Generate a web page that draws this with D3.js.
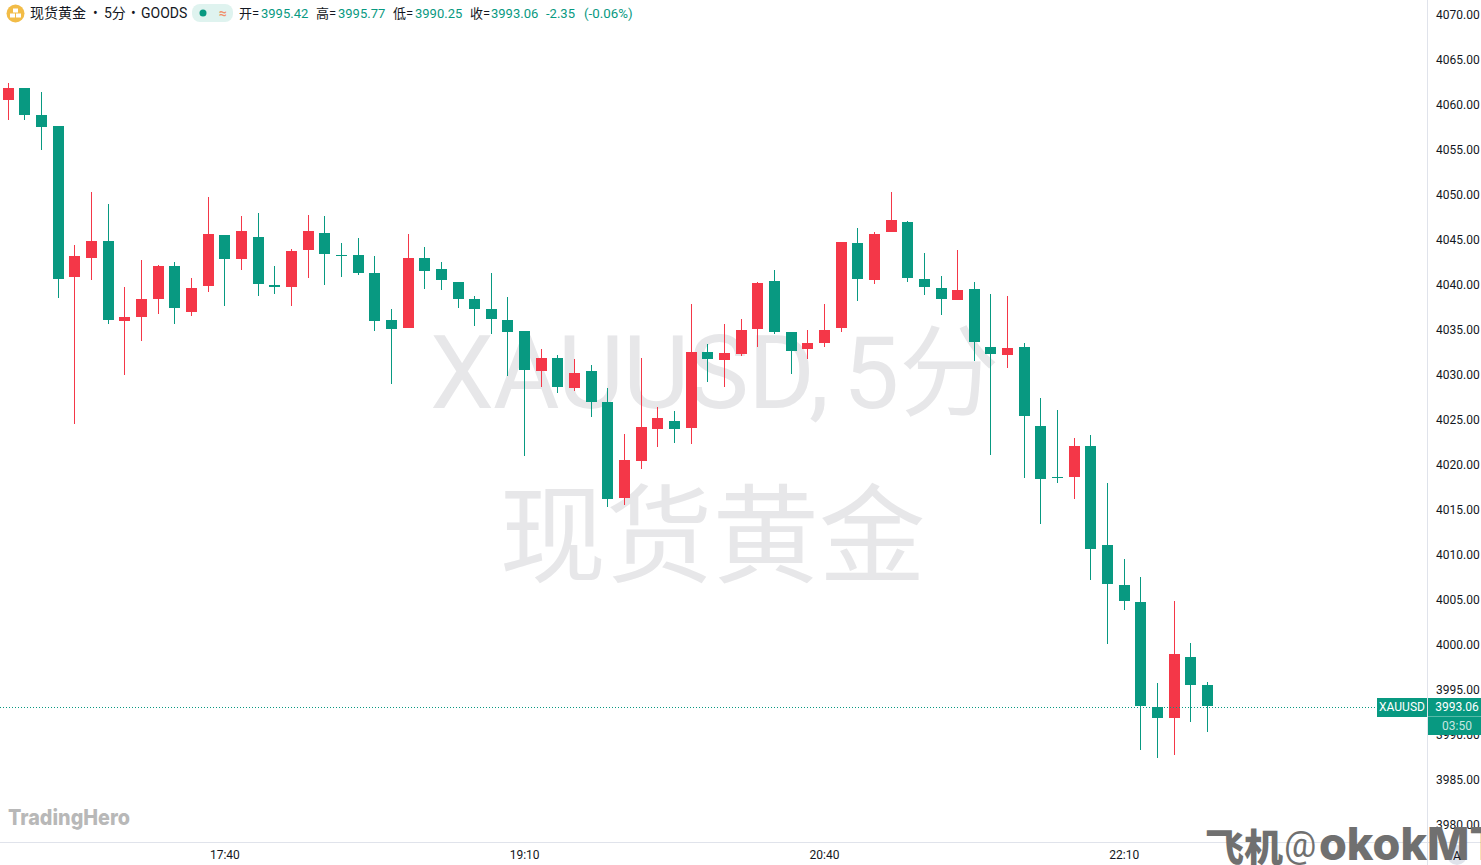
<!DOCTYPE html>
<html><head><meta charset="utf-8">
<script src="https://cdn.jsdelivr.net/npm/d3@7/dist/d3.min.js"></script>
<style>html,body{margin:0;padding:0;background:#fff;overflow:hidden}
svg{display:block}text{font-family:Roboto,"Noto Sans CJK SC",sans-serif}</style></head><body>
<div id="chart"></div>
<script>
const opens=[4060.44,4061.78,4058.78,4057.56,4040.78,4042.89,4044.78,4035.89,4036.33,4038.33,4042.00,4036.89,4039.78,4045.44,4042.78,4045.22,4039.89,4039.67,4043.78,4045.67,4043.22,4043.22,4041.22,4036.00,4035.11,4042.89,4041.67,4040.22,4038.33,4037.22,4036.00,4034.78,4030.33,4031.78,4028.44,4030.33,4026.89,4016.22,4020.33,4023.89,4024.78,4024.00,4032.44,4031.56,4032.22,4035.00,4040.33,4034.67,4032.78,4033.44,4035.11,4044.56,4040.44,4045.78,4046.89,4040.56,4039.56,4038.22,4039.44,4033.00,4032.11,4033.00,4024.22,4018.56,4018.56,4022.00,4011.00,4006.56,4004.67,3993.00,3991.78,3998.56,3995.42];
const highs=[4062.33,4061.78,4061.33,4057.56,4044.33,4050.22,4048.89,4039.67,4042.67,4042.11,4042.44,4040.67,4049.67,4045.44,4047.56,4047.89,4042.00,4043.89,4047.67,4047.56,4044.56,4045.11,4043.11,4037.22,4045.56,4044.11,4042.44,4040.22,4038.67,4041.22,4038.56,4034.78,4032.78,4032.11,4031.67,4031.00,4028.44,4023.33,4031.78,4026.33,4025.89,4037.78,4033.33,4035.56,4036.11,4040.22,4041.56,4034.67,4034.89,4037.78,4044.67,4046.22,4045.78,4050.22,4047.00,4043.44,4040.89,4043.78,4040.22,4038.89,4038.67,4033.44,4027.33,4026.00,4022.89,4023.22,4017.89,4009.44,4007.44,3995.67,4004.78,4000.11,3995.77];
const lows=[4058.22,4058.22,4054.89,4038.44,4024.44,4040.44,4035.56,4029.89,4033.67,4036.67,4035.56,4036.44,4039.11,4037.56,4041.56,4038.67,4038.89,4037.56,4040.67,4039.89,4040.78,4041.00,4034.78,4028.89,4035.11,4039.44,4039.33,4037.33,4035.33,4034.44,4029.78,4020.89,4028.56,4027.89,4028.11,4025.22,4015.22,4015.44,4019.44,4021.89,4022.33,4022.22,4029.11,4028.56,4032.00,4033.00,4034.44,4030.00,4031.67,4033.00,4034.67,4038.11,4040.00,4045.78,4040.22,4038.78,4036.56,4038.22,4031.44,4021.00,4030.67,4018.44,4013.33,4017.89,4016.11,4007.11,4000.00,4003.78,3988.22,3987.33,3987.67,3991.33,3990.25];
const closes=[4061.78,4058.78,4057.44,4040.56,4043.11,4044.78,4036.00,4036.33,4038.33,4042.00,4037.33,4039.56,4045.56,4042.78,4045.89,4040.00,4039.67,4043.67,4045.89,4043.33,4043.11,4041.22,4035.89,4035.00,4042.89,4041.44,4040.44,4038.33,4037.22,4036.11,4034.67,4030.44,4031.78,4028.56,4030.11,4026.89,4016.11,4020.44,4024.11,4025.11,4023.89,4032.44,4031.67,4032.33,4034.89,4040.11,4034.67,4032.56,4033.44,4034.89,4044.67,4040.56,4045.56,4047.11,4040.67,4039.67,4038.33,4039.33,4033.56,4032.22,4032.89,4025.33,4018.33,4018.44,4022.00,4010.56,4006.67,4004.78,3993.06,3991.78,3998.89,3995.42,3993.06];
const priceTicks=[3980,3985,3990,3995,4000,4005,4010,4015,4020,4025,4030,4035,4040,4045,4050,4055,4060,4065,4070];
const timeTicks=[13,31,49,67];
const timeLabels=["17:40","19:10","20:40","22:10"];
const lastPrice=3993.06;
const GREEN="#089981",RED="#F43748",AXIS="#e0e3eb",INK="#131722",WM="#e7e7e9";

const W=1481,H=865,plotR=1427,plotB=842;
const x=d3.scaleLinear().domain([0,72]).range([8.84,1208.0]);
const y=d3.scaleLinear().domain([3980,4070]).range([824,14]);
const svg=d3.select("#chart").append("svg").attr("width",W).attr("height",H);

// big watermark
const wm=svg.append("g").attr("fill",WM).style("font-family",'"Noto Sans CJK SC",sans-serif');
wm.append("text").attr("x",430).attr("y",408).attr("font-size",102).attr("textLength",399).attr("lengthAdjust","spacing").text("XAUUSD,");
wm.append("text").attr("x",843).attr("y",408).attr("font-size",100).text("5分");
wm.append("text").attr("x",712.5).attr("y",574).attr("text-anchor","middle").attr("font-size",106.5).text("现货黄金");

// candles
const rows=d3.range(closes.length);
const left=i=>Math.floor(x(i)-5.5);
const col=i=>closes[i]>opens[i]?RED:GREEN;
const g=svg.append("g").attr("shape-rendering","crispEdges");
g.selectAll("rect.w").data(rows).join("rect").attr("class","w")
 .attr("x",i=>left(i)+5).attr("width",1)
 .attr("y",i=>Math.round(y(highs[i]))).attr("height",i=>Math.round(y(lows[i]))-Math.round(y(highs[i])))
 .attr("fill",col);
g.selectAll("rect.b").data(rows).join("rect").attr("class","b")
 .attr("x",left).attr("width",11)
 .attr("y",i=>Math.round(y(Math.max(opens[i],closes[i]))))
 .attr("height",i=>Math.max(1,Math.round(y(Math.min(opens[i],closes[i])))-Math.round(y(Math.max(opens[i],closes[i])))))
 .attr("fill",col);

// price line
svg.append("line").attr("x1",0).attr("x2",1377).attr("y1",Math.ceil(y(lastPrice))+.5).attr("y2",Math.ceil(y(lastPrice))+.5)
 .attr("stroke",GREEN).attr("stroke-width",1).attr("stroke-dasharray","1 2").attr("shape-rendering","crispEdges");

// axes
svg.append("rect").attr("x",plotR).attr("y",0).attr("width",1).attr("height",H).attr("fill",AXIS);
svg.append("rect").attr("x",0).attr("y",plotB).attr("width",W).attr("height",1).attr("fill",AXIS);
const ay=svg.append("g").attr("transform",`translate(${plotR+9},1)`)
 .call(d3.axisRight(y).tickValues(priceTicks).tickSize(0).tickPadding(0).tickFormat(d3.format(".2f")));
ay.select(".domain").remove();
ay.selectAll("text").attr("fill",INK).attr("font-size",12).style("font-family",'Roboto,sans-serif');
const ax=svg.append("g").attr("transform",`translate(-1,${plotB+8})`)
 .call(d3.axisBottom(x).tickValues(timeTicks).tickSize(0).tickPadding(0).tickFormat((d,i)=>timeLabels[i]));
ax.select(".domain").remove();
ax.selectAll("text").attr("fill",INK).attr("font-size",12).style("font-family",'Roboto,sans-serif');

// price tags
const tags=svg.append("g").attr("shape-rendering","crispEdges");
tags.append("rect").attr("x",1377).attr("y",698).attr("width",50).attr("height",19).attr("fill",GREEN);
tags.append("rect").attr("x",1428).attr("y",698).attr("width",53).attr("height",19).attr("fill",GREEN);
tags.append("rect").attr("x",1428).attr("y",717).attr("width",53).attr("height",18).attr("fill",GREEN);
tags.append("rect").attr("x",1428).attr("y",716).attr("width",53).attr("height",1).attr("fill","#58bba9");
const tagT=svg.append("g").attr("text-anchor","middle").attr("font-size",12);
tagT.append("text").attr("x",1402).attr("y",711).attr("fill","#fff").text("XAUUSD");
tagT.append("text").attr("x",1457).attr("y",711).attr("fill","#fff").text(d3.format(".2f")(lastPrice));
tagT.append("text").attr("x",1457).attr("y",730).attr("fill","#c6e6e0").text("03:50");

// header
const h=svg.append("g");
h.append("circle").attr("cx",15.5).attr("cy",13.5).attr("r",9).attr("fill","#F2BC47");
h.selectAll("rect.bar").data([[13,8.5],[10,13.5],[16,13.5]]).join("rect").attr("class","bar")
 .attr("x",d=>d[0]).attr("y",d=>d[1]).attr("width",5).attr("height",4).attr("fill","#fff");
const titleParts=["现货黄金","•","5分","•","GOODS"],titleX=[30,93,104,131,141];
titleParts.forEach((t,i)=>h.append("text").attr("x",titleX[i]).attr("y",18).attr("font-size",14).attr("fill",INK).text(t));
h.append("rect").attr("x",192).attr("y",4).attr("width",41).attr("height",18).attr("rx",8).attr("fill","#dff3ef");
h.append("circle").attr("cx",203).attr("cy",13).attr("r",3.5).attr("fill",GREEN);
h.append("text").attr("x",223).attr("y",18).attr("text-anchor","middle").attr("font-size",14).attr("font-weight",700).attr("fill","#f0906a").text("≈");
const ohlcLabels=["开=","高=","低=","收="],ohlcX=[239,316,393,470];
const ohlcVals=[opens[72],highs[72],lows[72],closes[72]],ohlcVX=[261,338,415,491];
ohlcLabels.forEach((t,i)=>{
 h.append("text").attr("x",ohlcX[i]).attr("y",18).attr("font-size",13).attr("fill",INK).text(t);
 h.append("text").attr("x",ohlcVX[i]).attr("y",18).attr("font-size",13).attr("fill",GREEN).text(d3.format(".2f")(ohlcVals[i]));
});
h.append("text").attr("x",546).attr("y",18).attr("font-size",13).attr("fill",GREEN).text("-2.35");
h.append("text").attr("x",584).attr("y",18).attr("font-size",13.3).attr("fill",GREEN).text("(-0.06%)");

// logos
svg.append("text").attr("x",8).attr("y",825).attr("font-size",22).attr("font-weight",800).attr("fill","#b8b8b8")
 .style("font-family","Inter,sans-serif").attr("textLength",122).attr("lengthAdjust","spacingAndGlyphs").text("TradingHero");
svg.append("circle").attr("cx",1457).attr("cy",855).attr("r",10).attr("fill","#e0e3eb");
const brand=svg.append("g").attr("fill","#707070");
brand.append("text").attr("x",1205).attr("y",861).attr("font-size",38).attr("font-weight",900).attr("textLength",78).attr("lengthAdjust","spacingAndGlyphs")
 .style("font-family",'"Noto Sans CJK SC",sans-serif').text("飞机");
brand.append("text").attr("x",1284).attr("y",857).attr("font-size",36).attr("font-weight",400).style("font-family","Roboto,sans-serif").text("@");
brand.append("text").attr("x",1319).attr("y",860).attr("font-size",45).attr("font-weight",800).style("font-family","Inter,sans-serif").text("okokMT");
svg.append("text").attr("x",1457).attr("y",860).attr("text-anchor","middle").attr("font-size",12).attr("fill",INK).text("A");
</script></body></html>
